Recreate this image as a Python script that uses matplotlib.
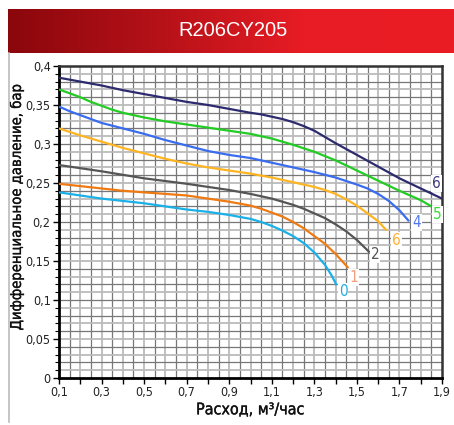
import numpy as np
import matplotlib
matplotlib.use("Agg")
import matplotlib.pyplot as plt
from matplotlib import font_manager as fm
from matplotlib import patheffects as pe
from matplotlib.colors import LinearSegmentedColormap

plt.rcParams['font.family'] = ['DejaVu Sans']


def find_font(keys, exclude):
    for f in fm.fontManager.ttflist:
        fn = f.fname
        if all(k in fn for k in keys) and not any(e in fn for e in exclude):
            return fn
    return None


cond = find_font(["DejaVuSansCondensed"], ["Bold", "Oblique"])
cond_b = find_font(["DejaVuSansCondensed-Bold"], ["Oblique"])


def fp(size, bold=False):
    fn = cond_b if bold else cond
    if fn:
        return fm.FontProperties(fname=fn, size=size)
    return fm.FontProperties(family="DejaVu Sans", size=size * 0.9,
                             weight="bold" if bold else "normal")


title = "R206CY205"
x_label = "Расход, м³/час"
y_label = "Дифференциальное давление, бар"

x_ticks = [0.1, 0.3, 0.5, 0.7, 0.9, 1.1, 1.3, 1.5, 1.7, 1.9]
y_ticks = [0, 0.05, 0.1, 0.15, 0.2, 0.25, 0.3, 0.35, 0.4]

# curves (flow, pressure)
x_c6 = [0.1, 0.2, 0.3, 0.4, 0.5, 0.6, 0.7, 0.8, 0.9, 1.0, 1.05, 1.1, 1.15, 1.2, 1.25, 1.3, 1.35, 1.4, 1.5, 1.6, 1.7, 1.8, 1.9]
y_c6 = [0.385, 0.380, 0.375, 0.369, 0.364, 0.359, 0.354, 0.350, 0.345, 0.340, 0.338, 0.335, 0.332, 0.328, 0.323, 0.317, 0.309, 0.301, 0.286, 0.271, 0.256, 0.243, 0.230]
x_c5 = [0.1, 0.15, 0.2, 0.25, 0.3, 0.35, 0.4, 0.45, 0.5, 0.6, 0.7, 0.8, 0.9, 1.0, 1.1, 1.2, 1.3, 1.4, 1.5, 1.6, 1.7, 1.8, 1.85]
y_c5 = [0.370, 0.365, 0.360, 0.354, 0.349, 0.344, 0.340, 0.337, 0.334, 0.329, 0.325, 0.321, 0.317, 0.313, 0.307, 0.299, 0.290, 0.279, 0.266, 0.253, 0.240, 0.228, 0.220]
x_c4 = [0.1, 0.15, 0.2, 0.25, 0.3, 0.4, 0.5, 0.6, 0.7, 0.8, 0.9, 1.0, 1.1, 1.2, 1.3, 1.4, 1.5, 1.55, 1.6, 1.65, 1.7, 1.745]
y_c4 = [0.348, 0.342, 0.337, 0.332, 0.327, 0.320, 0.313, 0.305, 0.298, 0.291, 0.286, 0.282, 0.276, 0.270, 0.264, 0.257, 0.248, 0.243, 0.236, 0.227, 0.215, 0.201]
x_c3 = [0.1, 0.2, 0.3, 0.4, 0.5, 0.6, 0.7, 0.8, 0.9, 1.0, 1.1, 1.2, 1.3, 1.35, 1.4, 1.45, 1.5, 1.55, 1.6, 1.64]
y_c3 = [0.320, 0.311, 0.303, 0.295, 0.288, 0.281, 0.275, 0.270, 0.266, 0.262, 0.257, 0.251, 0.245, 0.241, 0.236, 0.229, 0.221, 0.211, 0.201, 0.189]
x_c2 = [0.1, 0.3, 0.5, 0.7, 0.8, 0.9, 1.0, 1.1, 1.2, 1.25, 1.3, 1.35, 1.4, 1.45, 1.5, 1.56]
y_c2 = [0.273, 0.265, 0.256, 0.249, 0.245, 0.241, 0.236, 0.230, 0.222, 0.217, 0.211, 0.205, 0.197, 0.188, 0.177, 0.161]
x_c1 = [0.1, 0.2, 0.3, 0.4, 0.5, 0.6, 0.7, 0.8, 0.9, 1.0, 1.05, 1.1, 1.15, 1.2, 1.25, 1.3, 1.35, 1.4, 1.46]
y_c1 = [0.249, 0.246, 0.243, 0.240, 0.238, 0.236, 0.234, 0.230, 0.226, 0.221, 0.217, 0.212, 0.207, 0.200, 0.192, 0.182, 0.172, 0.159, 0.141]
x_c0 = [0.1, 0.2, 0.3, 0.4, 0.5, 0.6, 0.7, 0.8, 0.9, 1.0, 1.05, 1.1, 1.15, 1.2, 1.25, 1.3, 1.35, 1.38, 1.405]
y_c0 = [0.238, 0.234, 0.230, 0.227, 0.224, 0.220, 0.216, 0.213, 0.209, 0.204, 0.200, 0.195, 0.189, 0.182, 0.173, 0.161, 0.145, 0.132, 0.119]

curve_labels = ["6", "5", "4", "6", "2", "1", "0"]
label_x = [1.875, 1.88, 1.78, 1.685, 1.585, 1.485, 1.435]
label_y = [0.249, 0.210, 0.199, 0.176, 0.158, 0.129, 0.111]

line_colors = ["#2d2a6e", "#22cc22", "#3a6cf0", "#ffb422", "#555555", "#f07a12", "#1ab0e8"]
text_colors = ["#3d3a7e", "#33dd33", "#5577ee", "#ffb030", "#555555", "#f4a080", "#22aadd"]

W, H = 454, 425
fig = plt.figure(figsize=(W / 100, H / 100), dpi=100)

# banner
bax = fig.add_axes([8 / W, 1 - 53 / H, (W - 8) / W, 44 / H])
grad = np.linspace(0, 1, 256)
cm = LinearSegmentedColormap.from_list("r", ["#8a070c", "#b51118", "#e81c24", "#ea1d25"])
bax.imshow(grad[None, :], aspect="auto", cmap=cm, extent=[0, 1, 0, 1])
bax.set_axis_off()
bax.text(0.505, 0.5, title, color="white", ha="center", va="center", fontsize=14.5,
         family=["Liberation Sans", "DejaVu Sans"], transform=bax.transAxes)

# left border line
fig.add_artist(plt.Line2D([8.5 / W, 8.5 / W], [1 - 53 / H, 1 - 422 / H], color="#bbbbbb", lw=1.2,
                          transform=fig.transFigure))

ax = fig.add_axes([59 / W, 1 - 378 / H, (442 - 59) / W, (378 - 66) / H])
ax.set_xlim(0.1, 1.9)
ax.set_ylim(0, 0.4)

# grid
for i, gx in enumerate(np.arange(0.15, 1.9, 0.05)):
    dark = (i % 2 == 0)
    ax.axvline(gx, color="#777777" if dark else "#bbbbbb", lw=0.9 if dark else 1.3, zorder=0)
for j, gy in enumerate(np.arange(0.01, 0.4, 0.01)):
    dark = (j % 2 == 1)
    ax.axhline(gy, color="#777777" if dark else "#bbbbbb", lw=0.9 if dark else 1.3, zorder=0)

xs = [x_c6, x_c5, x_c4, x_c3, x_c2, x_c1, x_c0]
ys = [y_c6, y_c5, y_c4, y_c3, y_c2, y_c1, y_c0]
for xv, yv, c in zip(xs, ys, line_colors):
    ax.plot(xv, yv, color=c, lw=1.6, zorder=3, solid_capstyle="butt", solid_joinstyle="round")

for t, lx, ly, c in zip(curve_labels, label_x, label_y, text_colors):
    ax.text(lx, ly, t, color=c, fontproperties=fp(11), ha="center", va="center", zorder=4,
            bbox=dict(facecolor="white", edgecolor="none", pad=0.8))

ax.set_xticks(x_ticks)
ax.set_xticklabels([("%g" % v).replace(".", ",") for v in x_ticks])
ax.set_yticks(y_ticks)
ax.set_yticklabels([("%g" % v).replace(".", ",") for v in y_ticks])
for lab in ax.get_xticklabels() + ax.get_yticklabels():
    lab.set_fontproperties(fp(9))
    lab.set_color("#222222")
ax.set_xticks(np.arange(0.2, 1.9, 0.2), minor=True)
ax.set_yticks(np.arange(0.01, 0.4, 0.01), minor=True)
ax.tick_params(axis="both", which="major", length=4, width=1, color="black", pad=2)
ax.tick_params(axis="x", which="minor", length=4, width=1)
ax.tick_params(axis="y", which="minor", length=3, width=0.8)

for s in ["left", "bottom"]:
    ax.spines[s].set_linewidth(2)
    ax.spines[s].set_color("black")
for s in ["top", "right"]:
    ax.spines[s].set_linewidth(1.8)
    ax.spines[s].set_color("#333333")

thick = [pe.withStroke(linewidth=0.25, foreground="#111111")]
xl = ax.set_xlabel(x_label, fontproperties=fp(11.5))
yl = ax.set_ylabel(y_label, fontproperties=fp(10.6))
ax.xaxis.set_label_coords(0.499, -0.102)
ax.yaxis.set_label_coords(-0.112, 0.55)
xl.set_va("center")
yl.set_va("center")
xl.set_path_effects(thick)
yl.set_path_effects(thick)
xl.set_color("#111111")
yl.set_color("#111111")

fig.savefig("out.png", dpi=100)
